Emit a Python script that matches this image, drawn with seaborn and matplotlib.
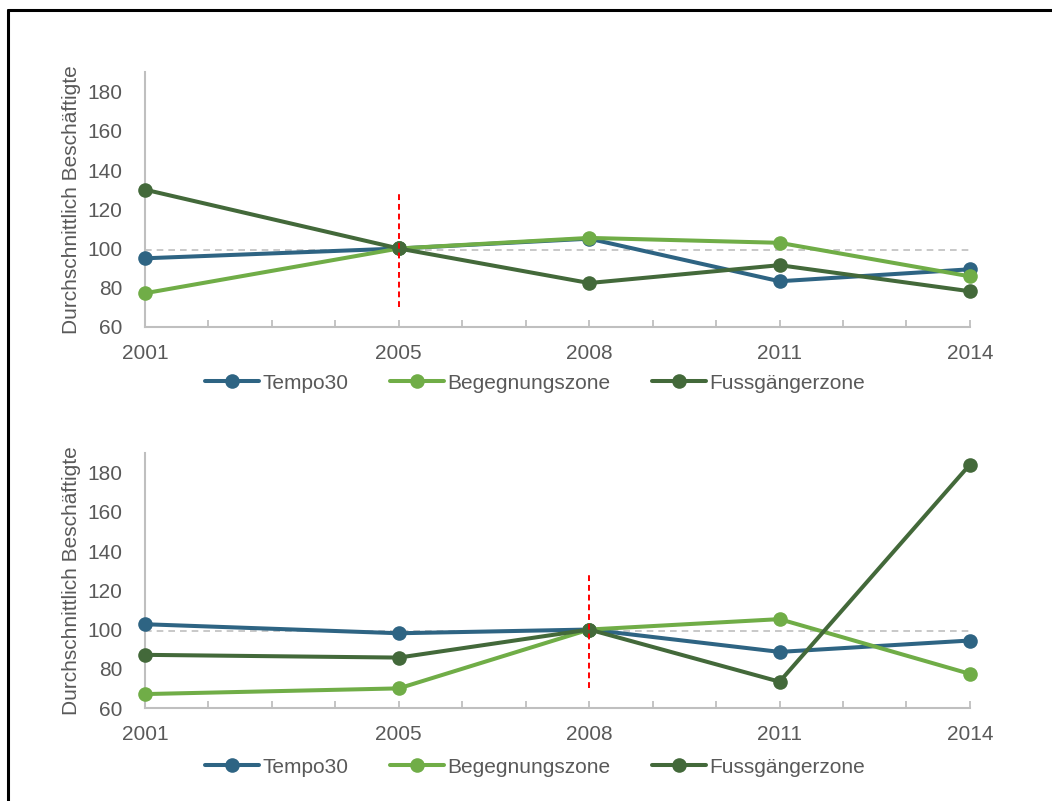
import matplotlib
matplotlib.use("Agg")
import matplotlib.pyplot as plt
from matplotlib.lines import Line2D
from matplotlib.ticker import FixedLocator, MultipleLocator
import pandas as pd
import seaborn as sns

# Daten
years = [2001, 2005, 2008, 2011, 2014]
zones = ["Tempo30", "Begegnungszone", "Fussgängerzone"]

top_tempo30 = [95, 100, 105, 83.3, 89.4]
top_begegnung = [77.2, 100, 105.4, 102.9, 85.8]
top_fussgaenger = [130, 100, 82.4, 91.5, 78.2]

bottom_tempo30 = [102.7, 98.1, 100, 88.6, 94.4]
bottom_begegnung = [67.1, 70, 100, 105.3, 77.4]
bottom_fussgaenger = [87.1, 85.7, 100, 73.4, 184.1]

ref_level = 99
marker_years = [2005, 2008]
y_ticks = [60, 80, 100, 120, 140, 160, 180]

colors = {"Tempo30": "#2E6483", "Begegnungszone": "#70AD47", "Fussgängerzone": "#43693A"}
grey = "#bfbfbf"
text_color = "#595959"
fs = 15


def to_long(t30, beg, fus):
    rows = []
    for name, vals in zip(zones, [t30, beg, fus]):
        for yr, v in zip(years, vals):
            rows.append({"Jahr": yr, "Wert": v, "Zone": name})
    return pd.DataFrame(rows)


sns.set_theme(style="white")
plt.rcParams["font.family"] = ["Liberation Sans", "DejaVu Sans"]

fig = plt.figure(figsize=(10.52, 8.01), dpi=100)

# Rahmen (oben und links)
fig.add_artist(Line2D([0.0076, 1.0], [0.9875, 0.9875], color="black", lw=2.2,
                      transform=fig.transFigure))
fig.add_artist(Line2D([0.0076, 0.0076], [0.0, 0.9875], color="black", lw=2.2,
                      transform=fig.transFigure))

panels = [
    ([0.1378, 0.5918, 0.7842, 0.3184], to_long(top_tempo30, top_begegnung, top_fussgaenger),
     marker_years[0], 0.5218),
    ([0.1378, 0.1161, 0.7842, 0.3184], to_long(bottom_tempo30, bottom_begegnung, bottom_fussgaenger),
     marker_years[1], 0.0424),
]

for rect, df, vyear, leg_y in panels:
    ax = fig.add_axes(rect)

    # graue Referenzlinie
    ax.hlines(ref_level, years[0], years[-1], colors=grey, linestyles=(0, (4, 3)),
              lw=1.2, zorder=1)

    sns.lineplot(data=df, x="Jahr", y="Wert", hue="Zone", palette=colors,
                 marker="o", markersize=10.5, markeredgewidth=0, linewidth=2.9,
                 legend=False, clip_on=False, ax=ax, zorder=3)

    # rote Markierung
    ax.vlines(vyear, 70, 128, colors="red", linestyles=(0, (3, 2)), lw=1.4, zorder=5)

    ax.set_xlim(years[0], years[-1])
    ax.set_ylim(60, 190)
    ax.xaxis.set_major_locator(FixedLocator(years))
    ax.xaxis.set_minor_locator(MultipleLocator(1))
    ax.yaxis.set_major_locator(FixedLocator(y_ticks))

    ax.set_xlabel("")
    ax.set_ylabel("Durchschnittlich Beschäftigte", fontsize=fs, color=text_color, labelpad=5)

    for s in ["top", "right"]:
        ax.spines[s].set_visible(False)
    for s in ["left", "bottom"]:
        ax.spines[s].set_color(grey)
        ax.spines[s].set_linewidth(1.5)

    ax.tick_params(axis="x", which="both", bottom=True, direction="in", length=5, width=1.3,
                   color=grey, labelsize=fs, labelcolor=text_color, pad=12)
    ax.tick_params(axis="y", left=False, length=0, labelsize=fs, labelcolor=text_color, pad=16)

    handles = [Line2D([], [], color=colors[z], lw=2.9, marker="o", markersize=10.5,
                      markeredgewidth=0) for z in zones]
    leg = fig.legend(handles, zones, loc="center", bbox_to_anchor=(0.5086, leg_y), ncol=3,
                     frameon=False, fontsize=fs, handlelength=2.6, handletextpad=0.15,
                     columnspacing=2.0)
    for t in leg.get_texts():
        t.set_color(text_color)

fig.savefig("out.png", dpi=100)
